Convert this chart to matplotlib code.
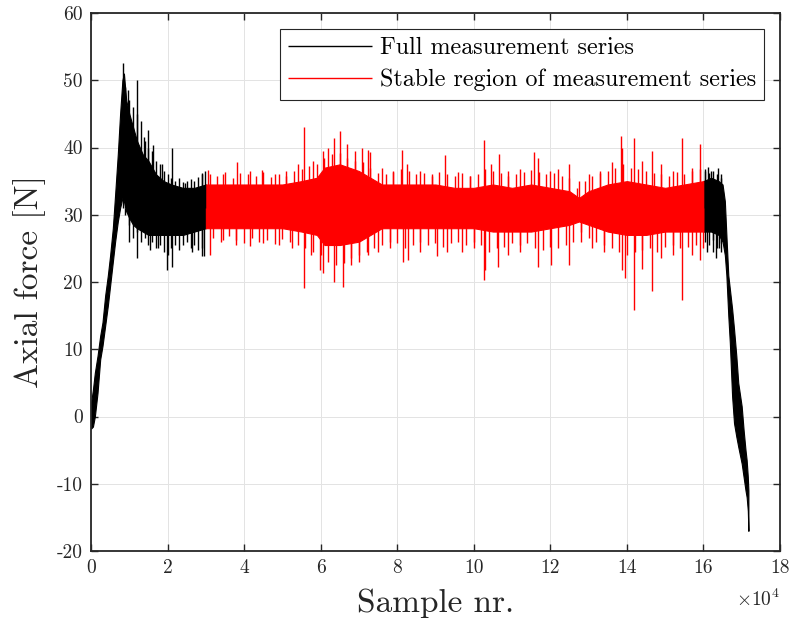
import numpy as np
import matplotlib.pyplot as plt

plt.rcParams['font.family'] = ['cmr10', 'DejaVu Serif']
plt.rcParams['mathtext.fontset'] = 'cm'
plt.rcParams['axes.unicode_minus'] = False

# sample positions in units of 1e4 samples, force in N
# core band of the full series, rising part and settling part (left)
left_x = [0.00, 0.05, 0.10, 0.17, 0.24, 0.30, 0.37, 0.44, 0.50, 0.57, 0.63,
          0.70, 0.76, 0.82, 0.86, 0.92, 1.00, 1.10, 1.20, 1.35, 1.50, 1.70,
          1.90, 2.10, 2.40, 2.70, 3.00]
left_hi = [2.0, 4.0, 6.5, 9.0, 12.0, 14.0, 18.0, 21.0, 24.0, 28.0, 33.0,
           39.0, 45.0, 50.0, 51.0, 47.0, 45.0, 43.0, 41.0, 39.0, 38.0, 36.0,
           35.0, 34.5, 34.0, 34.0, 34.5]
left_lo = [-1.8, -1.5, 0.0, 3.5, 8.5, 10.5, 13.5, 16.5, 19.5, 23.0, 26.0,
           29.0, 31.0, 32.5, 32.0, 30.5, 29.5, 28.5, 28.0, 27.5, 27.0, 27.0,
           27.0, 27.0, 27.0, 27.5, 28.0]

# core band of the full series, end part (right)
right_x = [16.00, 16.20, 16.40, 16.50, 16.56, 16.60, 16.65, 16.69, 16.75,
           16.80, 16.86, 16.91, 17.00, 17.05, 17.10, 17.13, 17.16, 17.175]
right_hi = [35.0, 35.5, 35.0, 34.5, 32.0, 27.0, 21.0, 19.0, 16.0,
            13.0, 9.0, 5.0, 1.5, -2.0, -5.0, -6.5, -9.0, -11.0]
right_lo = [27.5, 27.5, 27.0, 26.0, 24.0, 21.0, 15.0, 11.0, 3.0,
            -1.0, -3.0, -4.5, -7.0, -9.0, -11.0, -12.0, -14.0, -17.0]

# large spikes of the full series outside the stable region
full_spk_x = [0.84, 0.97, 1.19, 1.38, 1.50, 1.63, 1.85, 2.12, 2.46, 2.89, 2.97,
              1.00, 1.19, 1.54, 1.75, 1.98, 2.12, 2.63, 2.89, 2.96,
              16.05, 16.13, 16.20, 16.39, 16.47,
              16.10, 16.25, 16.34, 16.40, 16.45]
full_spk_y = [52.6, 48.5, 50.0, 41.6, 42.6, 40.4, 37.6, 39.9, 34.7, 36.2, 36.5,
              26.0, 23.5, 24.8, 25.0, 21.8, 22.3, 24.5, 23.8, 23.8,
              36.5, 37.1, 36.5, 36.9, 36.0,
              24.5, 24.5, 23.5, 25.0, 25.8]

# small spikes of the full series (settling part, every 0.1e4 from 0.9e4)
full_small_up = [49.0, 47.0, 46.0, 45.0, 44.0, 41.0, 40.0, 39.5, 38.0, 37.5,
                 36.5, 36.0, 35.5, 35.0, 35.5, 34.8, 35.0, 35.3, 35.0, 35.6,
                 36.0]
full_small_dn = [30.0, 28.5, 26.5, 27.5, 26.0, 26.5, 25.5, 26.0, 25.0, 25.5,
                 24.5, 24.0, 25.0, 25.5, 24.8, 25.5, 26.0, 25.0, 25.5, 24.8,
                 25.0]
# small spikes of the full series (end part, every 0.1e4 from 16.05e4)
end_small_up = [36.8, 36.2, 36.5, 36.0, 35.5]
end_small_dn = [26.0, 25.5, 26.2, 25.0, 24.5]

# core band of the stable region
stable_x = [3.0, 3.5, 4.0, 4.5, 5.0, 5.5, 5.9, 6.1, 6.5, 7.0, 7.3, 7.6, 8.0,
            8.5, 9.0, 9.5, 10.0, 10.5, 11.0, 11.5, 12.0, 12.5, 12.75, 13.0,
            13.5, 14.0, 14.5, 15.0, 15.5, 16.0]
stable_hi = [34.5, 34.5, 34.5, 34.5, 34.5, 35.0, 35.5, 37.0, 37.5, 36.5, 35.5,
             34.5, 34.5, 34.5, 34.5, 34.0, 34.0, 34.5, 34.0, 34.5, 34.0, 33.5,
             32.5, 33.5, 34.5, 35.0, 34.5, 34.0, 34.5, 35.0]
stable_lo = [28.0, 28.0, 28.0, 28.0, 28.0, 27.5, 27.0, 25.5, 25.5, 26.0, 27.0,
             28.0, 28.0, 28.0, 28.0, 28.0, 28.0, 27.5, 27.5, 27.5, 28.0, 28.5,
             29.0, 28.5, 27.5, 27.0, 27.0, 27.5, 27.5, 27.5]

# large spikes of the stable region
stable_up_x = [3.05, 3.45, 3.81, 4.15, 4.46, 4.80, 5.10, 5.40, 5.565, 5.80,
               6.07, 6.20, 6.35, 6.50, 6.70, 6.90, 7.07, 7.24, 7.29, 7.60,
               7.90, 8.12, 8.25, 8.60, 8.90, 9.25, 9.60, 9.90, 10.27, 10.45,
               10.66, 10.90, 11.20, 11.57, 11.69, 12.00, 12.20, 12.50, 12.75,
               13.00, 13.30, 13.60, 13.84, 13.86, 14.19, 14.40, 14.65, 14.90,
               15.20, 15.43, 15.70, 15.91]
stable_up_y = [36.7, 36.0, 37.9, 36.5, 36.7, 36.0, 36.5, 37.6, 43.1, 38.0,
               39.5, 40.0, 41.4, 42.4, 40.5, 39.5, 39.9, 39.7, 39.4, 37.0,
               36.5, 39.6, 37.6, 36.5, 36.0, 38.9, 36.4, 35.8, 41.1, 37.5,
               39.0, 36.5, 36.8, 39.4, 38.4, 36.5, 36.8, 37.6, 35.0,
               36.0, 36.5, 37.8, 41.7, 39.9, 41.4, 38.0, 39.5, 37.5,
               36.5, 41.4, 37.0, 40.5]
stable_dn_x = [3.10, 3.45, 3.80, 4.15, 4.50, 4.90, 5.25, 5.565, 5.75, 5.98,
               6.07, 6.35, 6.59, 6.80, 7.00, 7.24, 7.50, 7.80, 8.14, 8.27,
               8.60, 9.03, 9.30, 9.70, 10.00, 10.27, 10.30, 10.64, 10.90,
               11.20, 11.69, 12.01, 12.49, 12.80, 13.10, 13.40, 13.86, 13.95,
               14.19, 14.40, 14.65, 14.90, 15.20, 15.43, 15.70, 15.91]
stable_dn_y = [24.0, 26.2, 25.5, 25.3, 25.8, 25.5, 25.0, 19.1, 24.0, 21.8,
               21.3, 20.0, 19.3, 22.5, 23.0, 24.0, 24.5, 25.0, 23.0, 23.3,
               24.5, 23.8, 24.5, 24.5, 25.0, 20.3, 21.8, 22.3, 24.0,
               24.5, 22.3, 22.5, 22.5, 26.0, 25.0, 24.5, 21.8, 20.6,
               15.8, 22.0, 18.6, 23.5, 24.0, 17.3, 24.0, 23.3]

# small spikes of the stable region, every 0.2e4 from 3.1e4 to 15.9e4
stable_small_up = [36.0, 35.8, 36.3, 35.5, 36.2, 36.0, 35.7, 36.4, 35.6, 36.1,
                   35.8, 36.5, 36.8, 37.2, 37.5, 38.5, 39.0, 39.2, 38.5, 38.0,
                   37.8, 37.0, 36.2, 36.0, 36.3, 36.8, 36.5, 36.0, 36.2, 35.8,
                   36.4, 36.0, 35.8, 36.2, 35.7, 36.0, 36.8, 36.5, 36.2, 35.8,
                   36.0, 36.4, 36.6, 36.3, 36.0, 36.2, 35.8, 35.5, 34.0, 35.0,
                   35.8, 36.2, 36.5, 37.0, 37.5, 37.0, 36.8, 36.5, 36.2, 36.0,
                   35.8, 36.3, 36.0, 36.5, 36.8]
stable_small_dn = [26.5, 26.0, 26.8, 26.2, 25.8, 26.5, 26.0, 26.3, 25.7, 26.4,
                   26.0, 25.5, 25.0, 24.5, 24.0, 23.0, 22.5, 22.8, 23.5, 24.0,
                   24.5, 25.0, 25.5, 26.0, 25.8, 25.0, 25.5, 26.0, 25.5, 25.8,
                   25.2, 25.8, 26.0, 25.5, 26.0, 25.5, 24.5, 25.0, 25.2, 25.8,
                   25.5, 25.8, 25.0, 24.8, 25.2, 25.0, 25.5, 26.0, 27.5, 26.5,
                   26.0, 25.5, 25.0, 24.5, 24.0, 24.5, 24.8, 25.0, 24.5, 25.2,
                   25.5, 25.0, 25.2, 25.5, 25.0]

xticks = [0, 2, 4, 6, 8, 10, 12, 14, 16, 18]
yticks = [-20, -10, 0, 10, 20, 30, 40, 50, 60]

full_small_x = np.arange(9, 30) / 10
end_small_x = np.arange(1605, 1650, 10) / 100
stable_small_x = np.arange(31, 160, 2) / 10

fig = plt.figure(figsize=(7.9, 6.28), dpi=100)
ax = fig.add_axes([0.1152, 0.1226, 0.8721, 0.8567])

mid = 31.0

# full series (black)
ax.fill_between(left_x, left_lo, left_hi, color='k', lw=0.8)
ax.fill_between(right_x, right_lo, right_hi, color='k', lw=0.8)
ax.vlines(full_spk_x, mid, full_spk_y, color='k', lw=1.0,
          label='Full measurement series')
ax.vlines(full_small_x, mid, full_small_up, color='k', lw=1.0)
ax.vlines(full_small_x, mid, full_small_dn, color='k', lw=1.0)
ax.vlines(end_small_x, mid, end_small_up, color='k', lw=1.0)
ax.vlines(end_small_x, mid, end_small_dn, color='k', lw=1.0)

# stable region (red)
ax.fill_between(stable_x, stable_lo, stable_hi, color='r', lw=0.8)
ax.vlines(stable_up_x, mid, stable_up_y, color='r', lw=1.0,
          label='Stable region of measurement series')
ax.vlines(stable_dn_x, mid, stable_dn_y, color='r', lw=1.0)
ax.vlines(stable_small_x, mid, stable_small_up, color='r', lw=1.0)
ax.vlines(stable_small_x + 0.1, mid, stable_small_dn, color='r', lw=1.0)

ax.set_xlim(0, 18)
ax.set_ylim(-20, 60)
ax.set_xticks(xticks)
ax.set_yticks(yticks)
ax.set_xticklabels([str(t) for t in xticks])
ax.set_yticklabels([str(t) for t in yticks])
ax.tick_params(direction='in', length=5, width=1.0, labelsize=14,
               top=True, right=True, colors='#262626', pad=6)
for sp in ax.spines.values():
    sp.set_linewidth(1.3)
    sp.set_color('#262626')
ax.grid(True, color='#e3e3e3', lw=0.7)
ax.set_axisbelow(True)

ax.set_xlabel('Sample nr.', fontsize=24, color='#262626', labelpad=8)
ax.set_ylabel('Axial force [N]', fontsize=24, color='#262626', labelpad=8)
ax.text(1.0, -0.07, r'$\times10^4$', transform=ax.transAxes, ha='right',
        va='top', fontsize=14, color='#262626')

leg = ax.legend(loc='upper right', fontsize=17.3, handlelength=3.5,
                fancybox=False, framealpha=1, edgecolor='#262626',
                borderaxespad=0.65, borderpad=0.35, labelspacing=0.4,
                handletextpad=0.3)
leg.get_frame().set_linewidth(0.8)

fig.savefig('out.png', dpi=100)
